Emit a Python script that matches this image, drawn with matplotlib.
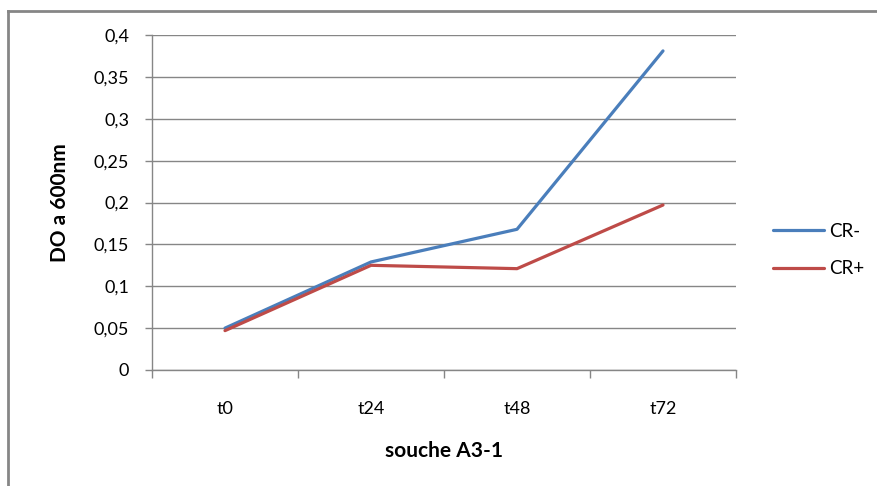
import matplotlib
matplotlib.use("Agg")
import matplotlib.pyplot as plt
from matplotlib.lines import Line2D

categories = ["t0", "t24", "t48", "t72"]
cr_minus = [0.050, 0.129, 0.168, 0.381]
cr_plus = [0.047, 0.125, 0.121, 0.197]
y_ticks = [0, 0.05, 0.1, 0.15, 0.2, 0.25, 0.3, 0.35, 0.4]
y_labels = ["0", "0,05", "0,1", "0,15", "0,2", "0,25", "0,3", "0,35", "0,4"]

GRID = "#868686"
BLUE = "#4A7EBB"
RED = "#BE4B48"

plt.rcParams["font.family"] = ["Lato", "DejaVu Sans"]

fig = plt.figure(figsize=(8.77, 4.86), dpi=100)
ax = fig.add_axes([152 / 877, 1 - 370 / 486, 584 / 877, 335 / 486])

x = list(range(len(categories)))
ax.plot(x, cr_minus, color=BLUE, lw=2.3, label="CR-", solid_capstyle="round")
ax.plot(x, cr_plus, color=RED, lw=2.3, label="CR+", solid_capstyle="round")

ax.set_xlim(-0.5, len(categories) - 0.5)
ax.set_ylim(0, 0.4)
ax.set_yticks(y_ticks)
ax.set_yticklabels(y_labels)
ax.set_xticks(x)
ax.set_xticklabels(categories)
ax.set_xticks([i - 0.5 for i in range(len(categories) + 1)], minor=True)

ax.grid(axis="y", color=GRID, lw=1)
ax.set_axisbelow(True)
ax.tick_params(axis="y", length=5, width=1, color=GRID, labelsize=13, pad=11.5)
ax.tick_params(axis="x", which="major", length=0, labelsize=13, pad=22)
ax.tick_params(axis="x", which="minor", length=6, width=1, color=GRID)

for s in ["top", "right"]:
    ax.spines[s].set_visible(False)
for s in ["left", "bottom"]:
    ax.spines[s].set_color(GRID)
    ax.spines[s].set_linewidth(1)

ax.set_xlabel("souche A3-1", fontsize=15, fontweight="bold")
ax.set_ylabel("DO a 600nm", fontsize=15, fontweight="bold")
ax.xaxis.set_label_coords(0.5, (370 - 441) / 335)
ax.yaxis.set_label_coords((70 - 152) / 584, 0.5)

ax.legend(loc="center left", bbox_to_anchor=(773 / 877, 1 - 250 / 486),
          bbox_transform=fig.transFigure, frameon=False, fontsize=13.5,
          borderpad=0, borderaxespad=0, handlelength=2.7, handletextpad=0.27,
          labelspacing=1.1)

# chart frame (only top and left edges visible)
fig.add_artist(Line2D([8 / 877, 8 / 877], [0, 1 - 11 / 486], transform=fig.transFigure,
                      color=GRID, lw=2))
fig.add_artist(Line2D([8 / 877, 1], [1 - 11 / 486, 1 - 11 / 486], transform=fig.transFigure,
                      color=GRID, lw=2))

fig.savefig("out.png", dpi=100)
